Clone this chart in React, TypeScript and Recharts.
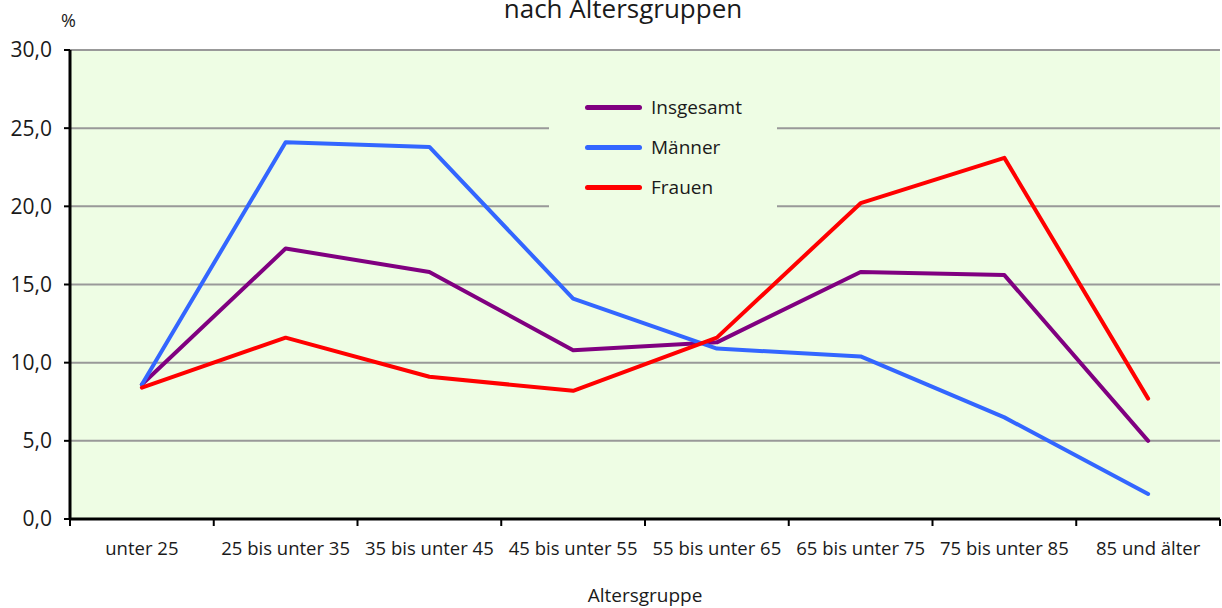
import React from "react";
import { LineChart, Line, XAxis, YAxis, CartesianGrid, Legend } from "recharts";

const categories = [
  "unter 25",
  "25 bis unter 35",
  "35 bis unter 45",
  "45 bis unter 55",
  "55 bis unter 65",
  "65 bis unter 75",
  "75 bis unter 85",
  "85 und älter",
];
const insgesamt = [8.6, 17.3, 15.8, 10.8, 11.3, 15.8, 15.6, 5.0];
const maenner = [8.6, 24.1, 23.8, 14.1, 10.9, 10.4, 6.5, 1.6];
const frauen = [8.4, 11.6, 9.1, 8.2, 11.6, 20.2, 23.1, 7.7];
const yTicks = [0, 5, 10, 15, 20, 25, 30];

const seriesInfo = [
  { key: "insgesamt", name: "Insgesamt", color: "#800080" },
  { key: "maenner", name: "Männer", color: "#3366FF" },
  { key: "frauen", name: "Frauen", color: "#FF0000" },
];

const data = categories.map((c, i) => ({
  name: c,
  insgesamt: insgesamt[i],
  maenner: maenner[i],
  frauen: frauen[i],
}));

const WIDTH = 1222;
const HEIGHT = 608;
const MARGIN = { top: 50, right: 2, left: 0, bottom: 0 };
const YAXIS_W = 70;
const XAXIS_H = 89;
const PLOT_W = WIDTH - MARGIN.left - MARGIN.right - YAXIS_W;
const BAND = PLOT_W / categories.length;
const FONT = "'Open Sans', 'Noto Sans', sans-serif";
const BG = "#EEFDE4";

const XTick = (props: any) => {
  const { x, y, payload } = props;
  const idx = payload.index;
  const last = idx === categories.length - 1;
  return (
    <g>
      <line x1={x - BAND / 2} x2={x - BAND / 2} y1={y} y2={y + 7} stroke="#000" strokeWidth={2} />
      {last && (
        <line x1={x + BAND / 2} x2={x + BAND / 2} y1={y} y2={y + 7} stroke="#000" strokeWidth={2} />
      )}
      <text x={x} y={y + 36} textAnchor="middle" fontSize={18.5} fill="#1a1a1a" fontFamily={FONT}>
        {payload.value}
      </text>
    </g>
  );
};

const YTick = (props: any) => {
  const { x, y, payload } = props;
  return (
    <text x={x} y={y} dy="0.355em" textAnchor="end" fontSize={21} fill="#1a1a1a" fontFamily={FONT}>
      {Number(payload.value).toFixed(1).replace(".", ",")}
    </text>
  );
};

const renderLegend = () => (
  <div
    style={{
      background: BG,
      width: 228,
      height: 133,
      boxSizing: "border-box",
      paddingTop: 0,
      fontFamily: FONT,
    }}
  >
    {seriesInfo.map((s) => (
      <div key={s.key} style={{ display: "flex", alignItems: "center", height: 40 }}>
        <div
          style={{
            marginLeft: 36,
            width: 57,
            height: 5,
            borderRadius: 3,
            background: s.color,
          }}
        />
        <span style={{ marginLeft: 9, fontSize: 19, color: "#1a1a1a" }}>{s.name}</span>
      </div>
    ))}
  </div>
);

export default function App() {
  return (
    <div style={{ position: "absolute", left: 0, top: 0, width: WIDTH, height: HEIGHT, background: "#fff", overflow: "hidden" }}>
      <LineChart width={WIDTH} height={HEIGHT} data={data} margin={MARGIN}>
        <CartesianGrid vertical={false} fill={BG} stroke="#999999" strokeWidth={2} />
        <XAxis
          dataKey="name"
          height={XAXIS_H}
          interval={0}
          padding={{ left: BAND / 2, right: BAND / 2 }}
          tickLine={false}
          tickSize={0}
          tickMargin={0}
          axisLine={{ stroke: "#000", strokeWidth: 3 }}
          tick={<XTick />}
        />
        <YAxis
          width={YAXIS_W}
          domain={[0, 30]}
          ticks={yTicks}
          interval={0}
          tickSize={6}
          tickMargin={12}
          tickLine={{ stroke: "#000", strokeWidth: 2 }}
          axisLine={{ stroke: "#000", strokeWidth: 3 }}
          tick={<YTick />}
        />
        <Legend
          layout="vertical"
          align="center"
          verticalAlign="middle"
          content={renderLegend}
          wrapperStyle={{ position: "absolute", left: 549, top: 87, width: 228, height: 133 }}
        />
        {seriesInfo.map((s) => (
          <Line
            key={s.key}
            type="linear"
            dataKey={s.key}
            name={s.name}
            stroke={s.color}
            strokeWidth={4}
            strokeLinecap="round"
            strokeLinejoin="round"
            dot={false}
            activeDot={false}
            isAnimationActive={false}
          />
        ))}
      </LineChart>
      <div
        style={{
          position: "absolute",
          left: 0,
          width: 1246,
          top: -10,
          textAlign: "center",
          fontFamily: FONT,
          fontSize: 26,
          lineHeight: "36px",
          color: "#1a1a1a",
          whiteSpace: "nowrap",
        }}
      >
        nach Altersgruppen
      </div>
      <div
        style={{
          position: "absolute",
          left: 61,
          top: 8,
          fontFamily: FONT,
          fontSize: 18,
          lineHeight: "24px",
          color: "#1a1a1a",
        }}
      >
        %
      </div>
      <div
        style={{
          position: "absolute",
          left: 70,
          width: 1150,
          top: 583,
          textAlign: "center",
          fontFamily: FONT,
          fontSize: 19,
          lineHeight: "24px",
          color: "#1a1a1a",
        }}
      >
        Altersgruppe
      </div>
    </div>
  );
}
